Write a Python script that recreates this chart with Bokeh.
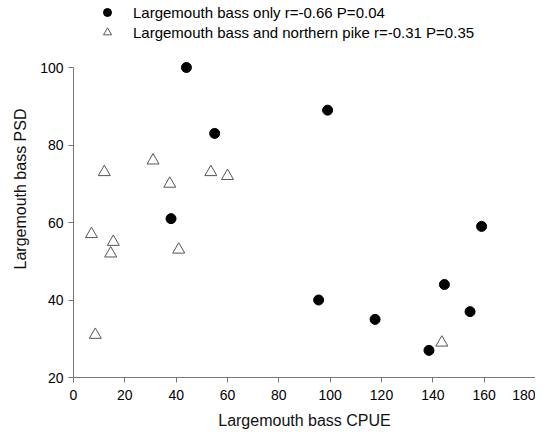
from bokeh.plotting import figure
from bokeh.models import Range1d, Legend, LegendItem, FixedTicker
from bokeh.embed import file_html
from bokeh.resources import INLINE

# Largemouth bass only (filled circles)
lmb_cpue = [44, 55, 38, 99, 159, 95.5, 117.5, 144.5, 154.5, 138.5]
lmb_psd = [100, 83, 61, 89, 59, 40, 35, 44, 37, 27]

# Largemouth bass and northern pike (open triangles)
lmbnp_cpue = [12, 31, 37.5, 53.5, 60, 7, 15.5, 14.5, 41, 8.5, 143.5]
lmbnp_psd = [73, 76, 70, 73, 72, 57, 55, 52, 53, 31, 29]

x_ticks = [0, 20, 40, 60, 80, 100, 120, 140, 160, 180]
y_ticks = [20, 40, 60, 80, 100]

label_a = "Largemouth bass only r=-0.66 P=0.04"
label_b = "Largemouth bass and northern pike r=-0.31 P=0.35"

FONT = "Liberation Sans"

# frame extends to the top of the figure so the legend (drawn inside the frame) fits above the data
p = figure(width=535, height=431, output_backend="svg", toolbar_location=None,
           x_range=Range1d(0, 180), y_range=Range1d(20, 117.3),
           min_border_left=73, min_border_right=0, min_border_top=0,
           min_border_bottom=49)
p.outline_line_color = None
p.xgrid.visible = False
p.ygrid.visible = False

r1 = p.scatter(lmb_cpue, lmb_psd, marker="circle", size=10,
               fill_color="black", line_color="black")
r2 = p.scatter(lmbnp_cpue, lmbnp_psd, marker="triangle", size=12,
               fill_color="white", line_color="#555555", line_width=1)

for ax in (p.xaxis[0], p.yaxis[0]):
    ax.axis_line_color = "#777777"
    ax.major_tick_line_color = "#777777"
    ax.major_tick_out = 5
    ax.major_tick_in = 0
    ax.minor_tick_line_color = None
    ax.major_label_text_font = FONT
    ax.major_label_text_font_size = "14px"
    ax.major_label_text_color = "black"
    ax.axis_label_text_font = FONT
    ax.axis_label_text_font_size = "16px"
    ax.axis_label_text_font_style = "normal"
    ax.axis_label_text_color = "#111111"

p.xaxis.ticker = FixedTicker(ticks=x_ticks)
p.yaxis.ticker = FixedTicker(ticks=y_ticks)
p.yaxis.bounds = (20, 100)
p.xaxis.axis_label = "Largemouth bass CPUE"
p.yaxis.axis_label = "Largemouth bass PSD"
p.xaxis.major_label_standoff = 7
p.xaxis.axis_label_standoff = 9
p.yaxis.major_label_standoff = 5
p.yaxis.axis_label_standoff = 8

legend = Legend(items=[LegendItem(label=label_a, renderers=[r1]),
                       LegendItem(label=label_b, renderers=[r2])],
                location=(24, 335), padding=0, spacing=0, margin=0,
                glyph_width=20, glyph_height=20, label_height=20,
                label_standoff=16, border_line_color=None,
                background_fill_alpha=0,
                label_text_font=FONT, label_text_font_size="15px",
                label_text_color="black")
p.add_layout(legend)

open("out.html", "w").write(file_html(p, INLINE))
